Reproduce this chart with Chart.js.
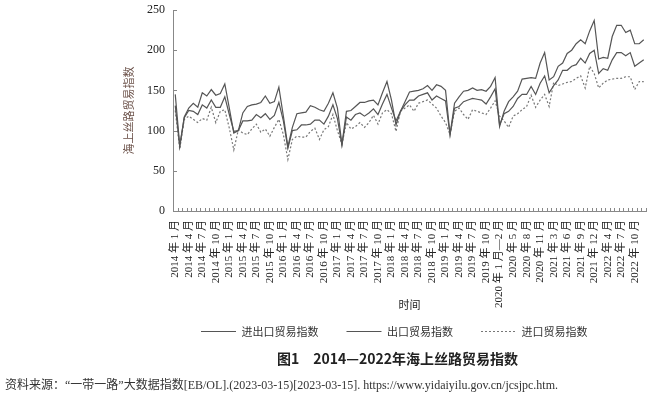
<!DOCTYPE html>
<html>
<head>
<meta charset="utf-8">
<script src="https://cdn.jsdelivr.net/npm/chart.js"></script>
<style>
	body { margin: 0; background: #fff; width: 651px; height: 397px; overflow: hidden; position: relative; }
	#chart { position: absolute; left: 0; top: 0; }
	.cap { position: absolute; white-space: nowrap; color: #222; }
	#fig { top: 348px; left: 277px; font: bold 14px 'Noto Sans CJK SC', sans-serif; }
	#src { top: 375px; left: 5px; font: 12px 'Liberation Serif', 'Noto Sans CJK SC', serif; color: #333; }
</style>
</head>
<body>
<canvas id="chart" width="651" height="397"></canvas>
<div class="cap" id="fig">图1　2014—2022年海上丝路贸易指数</div>
<div class="cap" id="src">资料来源：“一带一路”大数据指数[EB/OL].(2023-03-15)[2023-03-15]. https://www.yidaiyilu.gov.cn/jcsjpc.htm.</div>
<script>
// categories: monthly, from 2020 Jan and Feb are merged
const years = [2014, 2015, 2016, 2017, 2018, 2019, 2020, 2021, 2022];
const labels = [];
for (const y of years) {
	if (y < 2020) {
		for (let m = 1; m <= 12; m++) labels.push(y + ' 年 ' + m + ' 月');
	} else {
		labels.push(y + ' 年 1 月—2 月');
		for (let m = 3; m <= 12; m++) labels.push(y + ' 年 ' + m + ' 月');
	}
}

// 进出口贸易指数
const totalIdx = [
	131, 80, 116, 125, 124, 120, 132, 128, 138, 129, 129, 142,
	120, 99, 100, 112, 112, 113, 120, 116, 121, 114, 119, 135,
	112, 78, 100, 101, 107, 107, 108, 113, 113, 108, 118, 132,
	115, 82, 117, 113, 120, 122, 118, 122, 127, 120, 133, 145,
	128, 112, 124, 132, 138, 138, 143, 145, 147, 138, 143, 140,
	137, 95, 128, 130, 136, 138, 140, 139, 138, 133, 142, 152,
	107, 121, 124, 130, 140, 145, 145, 155, 145, 159, 168,
	147, 156, 163, 175, 175, 180, 182, 190, 184, 196, 200,
	171, 177, 175, 188, 197, 197, 193, 197, 180, 184, 188,
];

// 出口贸易指数
const exportIdx = [
	145, 81, 117, 128, 134, 129, 147, 143, 151, 144, 146, 158,
	128, 97, 100, 122, 130, 132, 133, 135, 143, 134, 136, 154,
	118, 80, 104, 121, 122, 123, 131, 129, 126, 124, 134, 147,
	128, 83, 124, 125, 130, 135, 135, 137, 138, 132, 147, 161,
	138, 107, 124, 136, 148, 149, 150, 152, 156, 150, 157, 155,
	150, 95, 134, 142, 149, 150, 153, 150, 151, 149, 155, 166,
	105, 124, 136, 142, 149, 164, 165, 166, 165, 184, 197,
	163, 167, 180, 184, 196, 200, 208, 213, 208, 224, 237,
	189, 191, 190, 217, 231, 231, 222, 225, 208, 208, 213,
];

// 进口贸易指数
const importIdx = [
	125, 77, 114, 118, 114, 110, 115, 113, 129, 110, 124, 126,
	103, 76, 101, 97, 95, 102, 108, 98, 102, 93, 104, 114,
	95, 64, 89, 93, 92, 92, 99, 103, 89, 101, 105, 120,
	100, 83, 110, 102, 105, 110, 104, 110, 119, 108, 122, 126,
	121, 99, 124, 128, 132, 124, 134, 136, 138, 133, 128, 118,
	110, 95, 124, 128, 120, 114, 126, 124, 122, 120, 128, 137,
	118, 112, 104, 118, 121, 126, 130, 144, 129, 138, 145,
	130, 160, 156, 158, 160, 161, 165, 168, 153, 180, 171,
	153, 159, 163, 164, 165, 165, 167, 167, 151, 161, 161,
];

const yTicks = [0, 50, 100, 150, 200, 250];

const serif = "'Liberation Serif', 'Noto Sans CJK SC', serif";
const cjk = "'Noto Sans CJK SC', sans-serif";

// small tick marks pointing into the plot
const innerTicks = {
	id: 'innerTicks',
	afterLayout(chart) {
		// let the long 2020 label run past the scale box (labels are clipped to it)
		chart.scales.x.bottom += 14;
	},
	afterDatasetsDraw(chart) {
		const { ctx, chartArea: a, scales: { x, y } } = chart;
		const step = x.getPixelForValue(1) - x.getPixelForValue(0);
		ctx.save();
		ctx.strokeStyle = '#888';
		ctx.lineWidth = 1;
		ctx.beginPath();
		for (let k = 0; k <= labels.length; k++) {
			const px = Math.round(x.getPixelForValue(k) - step / 2) + 0.5;
			ctx.moveTo(px, a.bottom);
			ctx.lineTo(px, a.bottom - 3);
		}
		yTicks.forEach((v) => {
			const py = Math.round(y.getPixelForValue(v)) + 0.5;
			ctx.moveTo(a.left, py);
			ctx.lineTo(a.left + 4, py);
		});
		ctx.stroke();
		ctx.restore();
	},
};

new Chart(document.getElementById('chart'), {
	type: 'line',
	data: {
		labels: labels,
		datasets: [
			{
				label: '进出口贸易指数',
				data: totalIdx,
				borderColor: '#555',
				borderWidth: 1.2,
				pointRadius: 0,
			},
			{
				label: '出口贸易指数',
				data: exportIdx,
				borderColor: '#555',
				borderWidth: 1.2,
				pointRadius: 0,
			},
			{
				label: '进口贸易指数',
				data: importIdx,
				borderColor: '#777',
				borderWidth: 1.2,
				borderDash: [2, 2],
				pointRadius: 0,
			},
		],
	},
	options: {
		responsive: false,
		animation: false,
		layout: { padding: { left: 118, top: 10, right: 5, bottom: 50 } },
		plugins: {
			tooltip: { enabled: false },
			legend: {
				position: 'bottom',
				align: 'start',
				fullSize: false,
				labels: {
					usePointStyle: true,
					pointStyle: 'line',
					pointStyleWidth: 35,
					padding: 28,
					color: '#333',
					font: { family: cjk, size: 11 },
					// point style loses the dash, take it back from the dataset
					generateLabels: (chart) => {
						const items = Chart.defaults.plugins.legend.labels.generateLabels(chart);
						items.forEach((it) => {
							const ds = chart.data.datasets[it.datasetIndex];
							it.lineDash = ds.borderDash || [];
							it.strokeStyle = ds.borderColor;
							it.lineWidth = 1;
						});
						return items;
					},
				},
			},
		},
		scales: {
			x: {
				offset: true,
				grid: { display: false, drawTicks: false },
				border: { color: '#888' },
				ticks: {
					autoSkip: false,
					maxRotation: 90,
					minRotation: 90,
					padding: 9,
					color: '#222',
					font: { family: serif, size: 11 },
					callback: (v, i) => (i % 3 === 0 ? labels[i] : ''),
				},
				title: {
					display: true,
					text: '时间',
					color: '#222',
					font: { family: cjk, size: 11 },
					padding: { top: 0, bottom: 1 },
				},
				afterFit: (s) => {
					s.height = 87;
					s.paddingLeft = 0;
					s.paddingRight = 0;
				},
			},
			y: {
				min: 0,
				max: 250,
				grid: { display: false, drawTicks: false },
				border: { color: '#888' },
				ticks: {
					stepSize: 50,
					padding: 8,
					color: '#222',
					font: { family: serif, size: 12 },
				},
				title: {
					display: true,
					text: '海上丝路贸易指数',
					color: '#6a5048',
					font: { family: cjk, size: 11 },
					padding: { top: 4, bottom: 0 },
				},
				afterFit: (s) => {
					s.width = 55;
					s.paddingTop = 0;
					s.paddingBottom = 0;
				},
			},
		},
	},
	plugins: [innerTicks],
});
</script>
</body>
</html>
